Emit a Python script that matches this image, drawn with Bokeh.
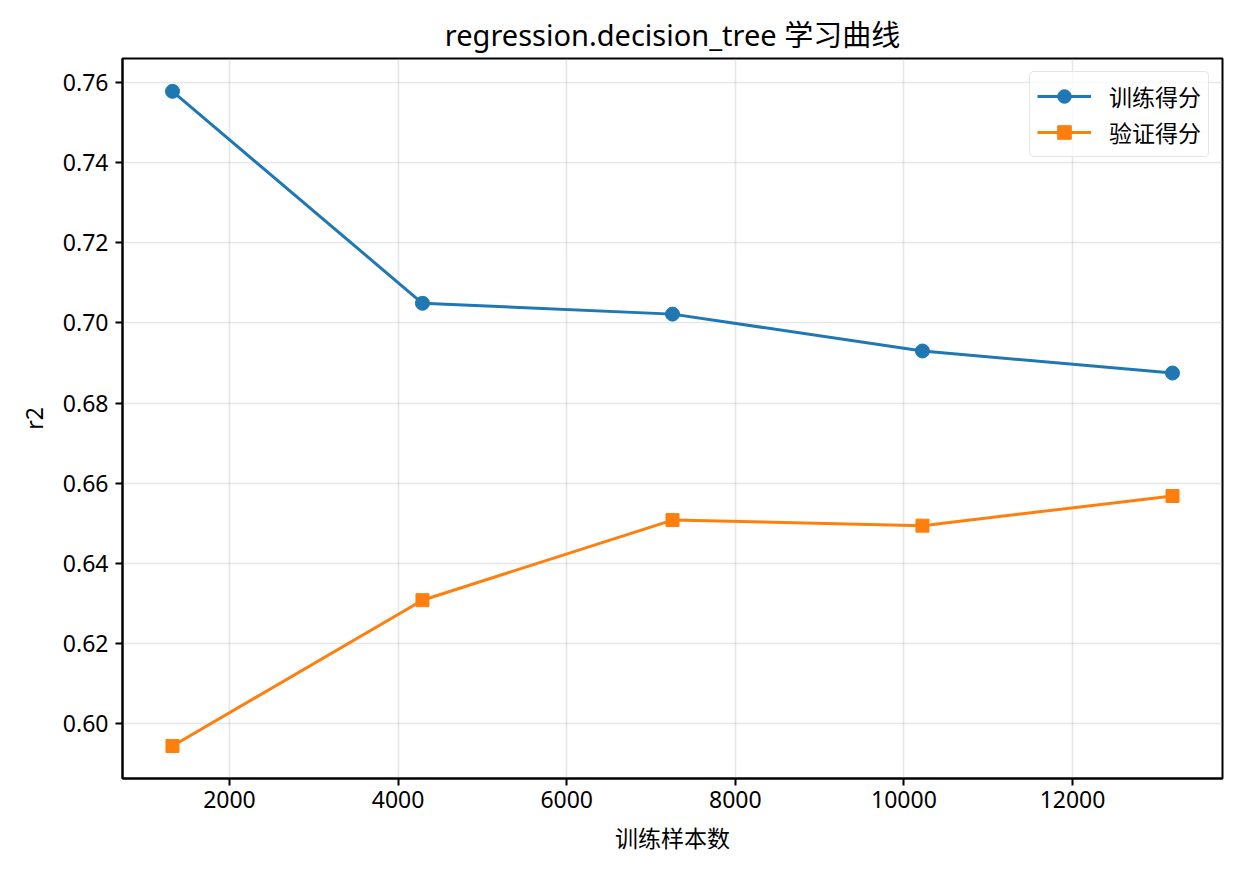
from bokeh.plotting import figure
from bokeh.models import FixedTicker, NumeralTickFormatter, Range1d, Legend, LegendItem
from bokeh.embed import file_html
from bokeh.resources import INLINE

train_sizes = [1324, 4289, 7255, 10220, 13186]
train_scores = [0.7578, 0.7049, 0.7022, 0.6930, 0.6875]
val_scores = [0.5944, 0.6308, 0.6508, 0.6494, 0.6568]
x_ticks = [2000, 4000, 6000, 8000, 10000, 12000]
y_ticks = [0.60, 0.62, 0.64, 0.66, 0.68, 0.70, 0.72, 0.74, 0.76]
title_text = "regression.decision_tree 学习曲线"
x_label = "训练样本数"
y_label = "r2"
series_names = ["训练得分", "验证得分"]

FONT = "Noto Sans CJK SC"
LATIN = "Noto Sans"
BLUE = "#1f77b4"
ORANGE = "#ff7f0e"

p = figure(width=1239, height=876, output_backend="svg", toolbar_location=None,
           x_range=Range1d(731, 13779), y_range=Range1d(0.5863, 0.766),
           min_border_left=122, min_border_right=17, min_border_top=58, min_border_bottom=98)

p.title.text = title_text
p.title.align = "center"
p.title.text_font = "Noto Sans, Noto Sans CJK SC"
p.title.text_font_size = "29px"
p.title.text_font_style = "normal"
p.title.text_color = "black"
p.title.offset = 0
p.title.standoff = 10

l1 = p.line(train_sizes, train_scores, line_color=BLUE, line_width=3)
m1 = p.scatter(train_sizes, train_scores, marker="circle", size=14, fill_color=BLUE, line_color=BLUE)
l2 = p.line(train_sizes, val_scores, line_color=ORANGE, line_width=3)
m2 = p.scatter(train_sizes, val_scores, marker="square", size=13, fill_color=ORANGE, line_color=ORANGE)

legend = Legend(items=[LegendItem(label=series_names[0], renderers=[l1, m1]),
                       LegendItem(label=series_names[1], renderers=[l2, m2])],
                location="top_right")
legend.label_text_font = FONT
legend.label_text_font_size = "23px"
legend.label_text_color = "black"
legend.label_height = 34
legend.border_line_color = "#cccccc"
legend.border_line_width = 1.5
legend.border_radius = 5
legend.background_fill_alpha = 0.8
legend.glyph_width = 54
legend.glyph_height = 34
legend.label_standoff = 18
legend.spacing = 2
legend.padding = 7
legend.margin = 13
p.add_layout(legend, "center")

for ax in (p.xaxis[0], p.yaxis[0]):
    ax.axis_line_width = 2
    ax.axis_line_color = "black"
    ax.major_tick_out = 7
    ax.major_tick_in = 0
    ax.major_tick_line_width = 2
    ax.minor_tick_out = 0
    ax.minor_tick_in = 0
    ax.major_label_text_font = LATIN
    ax.major_label_text_font_size = "23px"
    ax.major_label_text_color = "black"
    ax.axis_label_text_font_size = "23px"
    ax.axis_label_text_font_style = "normal"
    ax.axis_label_text_color = "black"

p.xaxis.axis_label_text_font = FONT
p.yaxis.axis_label_text_font = LATIN
p.xaxis.ticker = FixedTicker(ticks=x_ticks)
p.yaxis.ticker = FixedTicker(ticks=y_ticks)
p.xaxis.formatter = NumeralTickFormatter(format="0")
p.yaxis.formatter = NumeralTickFormatter(format="0.00")
p.xaxis.axis_label = x_label
p.yaxis.axis_label = y_label
p.xaxis.major_label_standoff = 5
p.yaxis.major_label_standoff = 7
p.xaxis.axis_label_standoff = 9
p.yaxis.axis_label_standoff = 10

p.xgrid.ticker = FixedTicker(ticks=x_ticks)
p.ygrid.ticker = FixedTicker(ticks=y_ticks)
p.grid.grid_line_color = "#b0b0b0"
p.grid.grid_line_alpha = 0.3
p.grid.grid_line_width = 1.6

p.outline_line_color = "black"
p.outline_line_width = 2
p.outline_line_alpha = 1

open("out.html", "w").write(file_html(p, INLINE))
